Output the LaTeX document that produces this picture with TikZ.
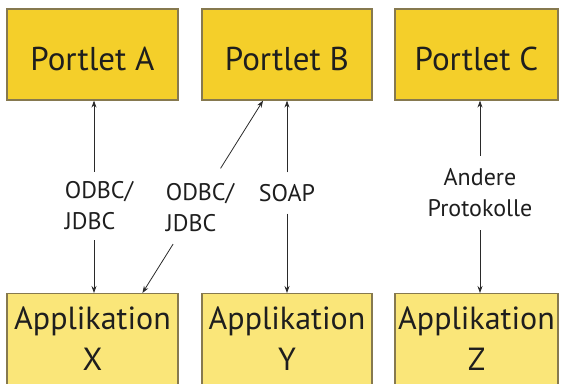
\documentclass[tikz,border=0pt]{standalone}
\usepackage{fontspec}
\setmainfont{PT Sans}
\usetikzlibrary{arrows.meta,calc}
\definecolor{topfill}{HTML}{F4CF2A}
\definecolor{botfill}{HTML}{FAE679}
\definecolor{boxline}{HTML}{86794F}
\definecolor{txt}{HTML}{1E1E1E}
\definecolor{conn}{HTML}{2A2A2A}
\tikzset{
  portlet/.style={draw=boxline,line width=1.2pt,fill=topfill,minimum height=91pt,inner sep=0pt},
  appbox/.style={draw=boxline,line width=1.2pt,fill=botfill,minimum height=110pt,inner sep=0pt},
  boxtext/.style={text=txt,font=\fontsize{33}{33}\selectfont,anchor=base},
  apptext/.style={text=txt,font=\fontsize{32}{41}\selectfont,align=center},
  proto/.style={text=txt,font=\fontsize{24}{31}\selectfont,inner sep=0pt,outer sep=0pt},
  link/.style={draw=conn,line width=0.8pt,-{Stealth[length=7pt,width=5pt]}},
}
\begin{document}
\begin{tikzpicture}[x=1pt,y=-1pt]
\useasboundingbox (0,0) rectangle (562,383);
\begin{scope}
\clip (0,0) rectangle (562,383);
% top boxes
\node[portlet,minimum width=171pt] (A) at (92.5,54.5) {};
\node[portlet,minimum width=170pt] (B) at (287,54.5) {};
\node[portlet,minimum width=163pt] (C) at (476.5,54.5) {};
\node[boxtext] (tA) at (92.5,70) {Portlet A};
\node[boxtext] (tB) at (287,70) {Portlet B};
\node[boxtext] (tC) at (476.5,70) {Portlet C};
% bottom boxes
\node[appbox,minimum width=171pt,anchor=north] (X) at (92.5,293) {};
\node[appbox,minimum width=170pt,anchor=north] (Y) at (287,293) {};
\node[appbox,minimum width=163pt,anchor=north] (Z) at (476.5,293) {};
\node[apptext,anchor=base] (tX) at (92.5,370) {Applikation\\X};
\node[apptext,anchor=base] (tY) at (287,370) {Applikation\\Y};
\node[apptext,anchor=base] (tZ) at (476.5,370) {Applikation\\Z};
\end{scope}
% protocol labels
\node[proto,align=left,inner ysep=10pt] (l1) at (99,206) {ODBC/\\JDBC};
\node[proto,align=left] (l2) at (200,208) {ODBC/\\JDBC};
\node[proto,inner ysep=12pt] (l3) at (287,193) {SOAP};
\node[proto,align=center,inner ysep=13pt] (l4) at (480,193) {Andere\\Protokolle};
% connectors
\coordinate (a1) at (94,0);
\coordinate (a3) at (287,0);
\coordinate (a4) at (480,0);
\draw[link] (a1 |- l1.north) -- (a1 |- A.south);
\draw[link] (a1 |- l1.south) -- (a1 |- X.north);
\draw[link] (a3 |- l3.north) -- (a3 |- B.south);
\draw[link] (a3 |- l3.south) -- (a3 |- Y.north);
\draw[link] (a4 |- l4.north) -- (a4 |- C.south);
\draw[link] (a4 |- l4.south) -- (a4 |- Z.north);
\coordinate (dB) at ($(B.south west)!0.36!(B.south east)$);
\coordinate (dX) at ($(X.north west)!0.79!(X.north east)$);
\draw[link] ($(dX)!0.648!(dB)$) -- (dB);
\draw[link] ($(dX)!0.254!(dB)$) -- (dX);
\end{tikzpicture}
\end{document}
